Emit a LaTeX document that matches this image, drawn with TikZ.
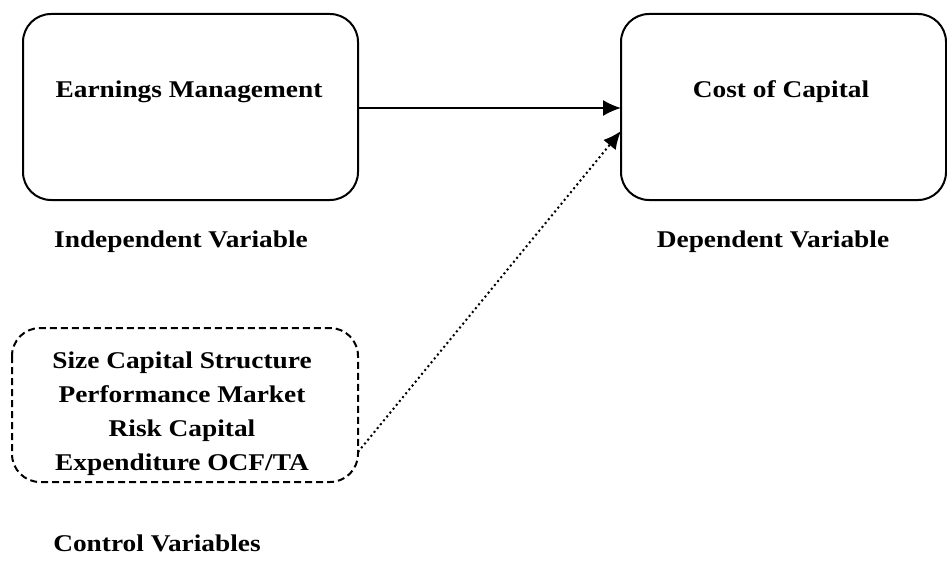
\documentclass[tikz,border=0pt]{standalone}
\usepackage{fontspec}
\setmainfont{Liberation Serif}[FakeStretch=1.14]
\usetikzlibrary{arrows.meta}
\begin{document}
\begin{tikzpicture}[x=1pt,y=-1pt,
  mainbox/.style={draw,line width=2pt,rounded corners=28pt},
  ctrlbox/.style={draw,line width=2pt,rounded corners=28pt,dash pattern=on 7pt off 4pt},
  lbl/.style={font=\fontsize{24}{34}\selectfont\bfseries,align=center},
  tip/.style={-{Latex[length=18pt,width=16pt,sep=0pt]}},
  arr/.style={line width=1.8pt,tip}
]
\useasboundingbox (0,0) rectangle (947,567);
\draw[mainbox] (23,14) rectangle (358,200);
\draw[mainbox] (621,14) rectangle (946,200);
\draw[ctrlbox] (12,328) rectangle (358,482);
\node[lbl] (em) at (189,92) {Earnings Management};
\node[lbl] (cc) at (781,92) {Cost of Capital};
\node[lbl] (iv) at (181,242) {Independent Variable};
\node[lbl] (dv) at (773,242) {Dependent Variable};
\node[lbl] (cv) at (157,543) {Control Variables};
\node[lbl] (ctrl) at (182,414) {Size Capital Structure\\Performance Market\\Risk Capital\\Expenditure OCF/TA};
\coordinate (a1) at (358,108);
\coordinate (a2) at (621,108);
\coordinate (b1) at (358,452);
\coordinate (b2) at (621,131);
\draw[arr] (a1) -- (a2);
\draw[line width=2pt,dash pattern=on 2pt off 3pt,tip] (b1) -- (b2);
\end{tikzpicture}
\end{document}
